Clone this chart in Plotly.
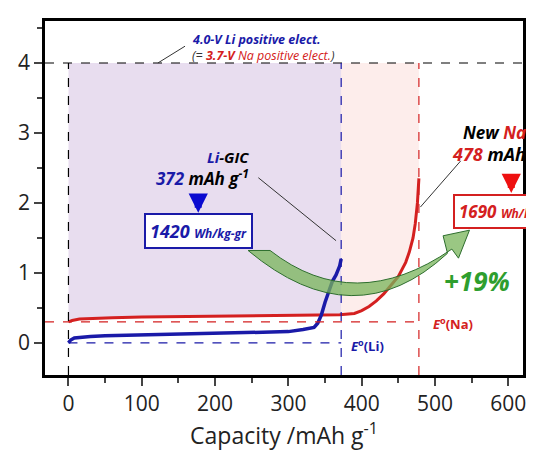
import plotly.graph_objects as go

li_cap = [0, 3, 8, 15, 30, 50, 100, 150, 200, 250, 300, 320, 335, 340, 345, 350, 355, 360, 365, 370, 372]
li_v   = [0.0, 0.04, 0.07, 0.08, 0.09, 0.1, 0.11, 0.12, 0.13, 0.14, 0.16, 0.19, 0.22, 0.28, 0.4, 0.58, 0.75, 0.88, 0.97, 1.1, 1.2]
na_cap = [0, 5, 15, 30, 60, 100, 200, 300, 370, 390, 400, 410, 420, 430, 440, 450, 460, 465, 470, 473, 476, 478]
na_v   = [0.3, 0.32, 0.34, 0.35, 0.36, 0.37, 0.38, 0.39, 0.4, 0.42, 0.46, 0.52, 0.6, 0.7, 0.82, 0.95, 1.15, 1.3, 1.5, 1.7, 2.0, 2.35]
x_ticks = [0, 100, 200, 300, 400, 500, 600]
y_ticks = [0, 1, 2, 3, 4]
li_capacity, na_capacity, v_top = 372, 478, 4.0
li_e0, na_e0 = 0.0, 0.3

BLUE, RED, GREEN = "#1a1aa8", "#d42020", "#2e9e2e"
FONT = "Open Sans"
fig = go.Figure()

pur_x = [c for c in na_cap if c <= li_capacity] + [li_capacity]
pur_y = [v for c, v in zip(na_cap, na_v) if c <= li_capacity] + [0.4]
fig.add_trace(go.Scatter(x=pur_x + [li_capacity, 0], y=pur_y + [v_top, v_top], fill="toself",
                         fillcolor="rgba(205,180,220,0.45)", line=dict(width=0), mode="lines", hoverinfo="skip"))
pk_x = [li_capacity] + [c for c in na_cap if c > li_capacity]
pk_y = [0.4] + [v for c, v in zip(na_cap, na_v) if c > li_capacity]
fig.add_trace(go.Scatter(x=pk_x + [na_capacity, li_capacity], y=pk_y + [v_top, v_top], fill="toself",
                         fillcolor="rgba(250,215,210,0.45)", line=dict(width=0), mode="lines", hoverinfo="skip"))

def dline(x0, y0, x1, y1, c):
    fig.add_shape(type="line", x0=x0, y0=y0, x1=x1, y1=y1, line=dict(color=c, width=1.2, dash="dash"))

dline(-32, v_top, 620, v_top, "black")
dline(0, -0.46, 0, v_top, "black")
dline(0, li_e0, li_capacity, li_e0, BLUE)
dline(li_capacity, -0.46, li_capacity, v_top, BLUE)
dline(-32, na_e0, na_capacity, na_e0, RED)
dline(na_capacity, -0.46, na_capacity, v_top, RED)

fig.add_trace(go.Scatter(x=na_cap, y=na_v, mode="lines", line=dict(color=RED, width=3), hoverinfo="skip"))
fig.add_trace(go.Scatter(x=li_cap, y=li_v, mode="lines", line=dict(color=BLUE, width=3.5), hoverinfo="skip"))

fig.add_shape(type="path", path="M 245,1.32 Q 390,0.05 517,1.28 L 511,1.53 L 547,1.61 L 532,1.21 L 523,1.34 Q 390,0.38 275,1.32 Z",
              fillcolor="rgba(120,180,90,0.75)", line=dict(color="#2e6e2e", width=1))

for (a, b, c, d) in [(122, 4.0, 159, 4.24), (259, 2.36, 365, 1.46), (480, 1.94, 535, 2.6)]:
    fig.add_shape(type="line", x0=a, y0=b, x1=c, y1=d, line=dict(color="#333", width=1))

def ann(x, y, t, size=14, xa="center", color="black", **kw):
    fig.add_annotation(x=x, y=y, text=t, showarrow=False, xanchor=xa, yanchor="middle",
                       font=dict(family=FONT, size=size, color=color), **kw)

ann(166, 4.33, f"<b><i><span style='color:{BLUE}'>4.0-V</span><span style='color:{BLUE}'> Li positive elect.</span></i></b>", 12.5, "left")
ann(166, 4.11, f"<i>(= <b><span style='color:{RED}'>3.7-V</span></b> <span style='color:{RED}'>Na positive elect.</span>)</i>", 12.5, "left", color="#333")
ann(249, 2.66, f"<b><i><span style='color:{BLUE}'>Li</span>-GIC</i></b>", 15, "right")
ann(249, 2.36, f"<b><i><span style='color:{BLUE}'>372</span> mAh g<sup>-1</sup></i></b>", 17, "right")
ann(177, 1.6, f"<b><i>1420 <span style='font-size:12px'>Wh/kg-gr</span></i></b>", 18, color=BLUE,
    bordercolor=BLUE, borderwidth=2, bgcolor="white", borderpad=4)
ann(535, 3.0, f"<b><i>New <span style='color:{RED}'>Na</span>-HC</i></b>", 17, "left")
ann(521, 2.71, f"<b><i><span style='color:{RED}'>478</span> mAh g<sup>-1</sup></i></b>", 18, "left")
ann(525, 1.87, f"<b><i>1690 <span style='font-size:12px'>Wh/kg-gr</span></i></b>", 17, "left", color=RED,
    bordercolor=RED, borderwidth=2, bgcolor="white", borderpad=4)
ann(557, 0.88, "<b><i>+19%</i></b>", 26, color=GREEN)
ann(383, -0.04, "<b><i>E</i><sup>o</sup>(Li)</b>", 13, "left", color=BLUE)
ann(494, 0.28, "<b><i>E</i><sup>o</sup>(Na)</b>", 13, "left", color=RED)

fig.add_annotation(x=177, y=1.86, ax=177, ay=2.08, xref="x", yref="y", axref="x", ayref="y", text="",
                   showarrow=True, arrowhead=2, arrowsize=0.55, arrowwidth=7, arrowcolor="#0a0ad0")
fig.add_annotation(x=604, y=2.14, ax=604, ay=2.38, xref="x", yref="y", axref="x", ayref="y", text="",
                   showarrow=True, arrowhead=2, arrowsize=0.55, arrowwidth=7, arrowcolor="#ee1010")

fig.update_layout(width=534, height=462, margin=dict(l=37, r=19, t=13, b=95),
                  plot_bgcolor="white", paper_bgcolor="white", showlegend=False,
                  font=dict(family=FONT, size=21, color="#222"))
fig.update_xaxes(range=[-32, 620], tickvals=x_ticks, ticks="outside", ticklen=8, tickwidth=2, automargin=False,
                 showline=True, linewidth=2.5, linecolor="black", mirror=True, showgrid=False, zeroline=False,
                 minor=dict(dtick=50, ticks="outside", ticklen=5, tickwidth=2),
                 title=dict(text="Capacity /mAh g<sup>-1</sup>", font=dict(size=23), standoff=12))
fig.update_yaxes(range=[-0.46, 4.6], tickvals=y_ticks, ticks="outside", ticklen=8, tickwidth=2, automargin=False,
                 showline=True, linewidth=2.5, linecolor="black", mirror=True, showgrid=False, zeroline=False,
                 minor=dict(dtick=0.5, ticks="outside", ticklen=5, tickwidth=2))
fig.write_html("out.html")
